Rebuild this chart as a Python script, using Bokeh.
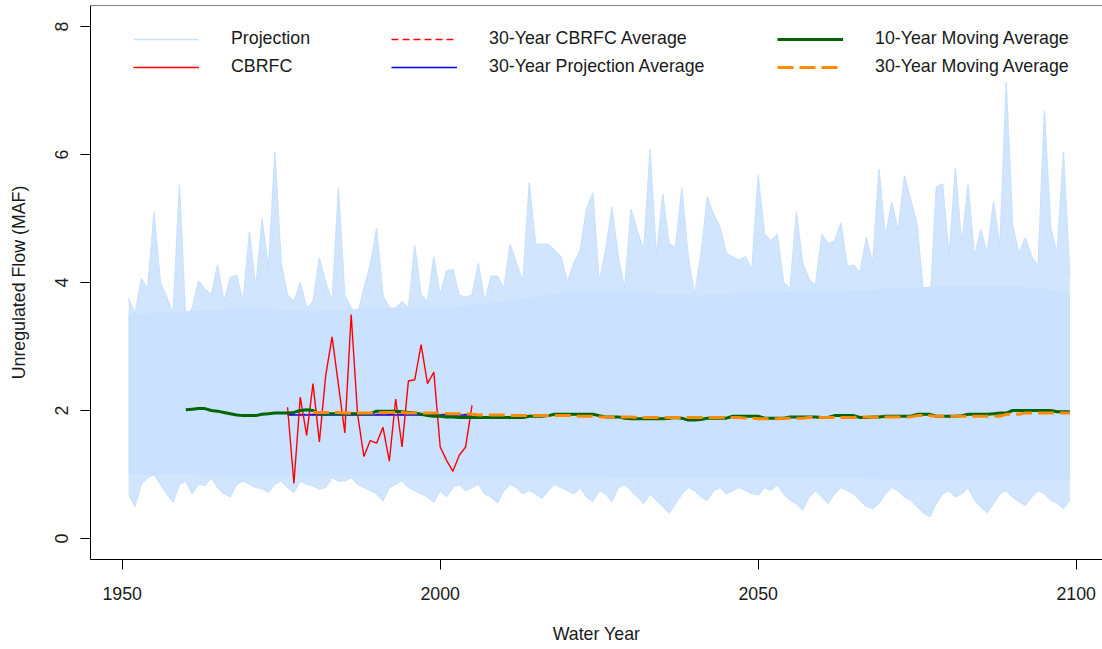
import math
from bokeh.plotting import figure
from bokeh.models import Range1d, FixedTicker, Legend, LegendItem, Span
from bokeh.embed import file_html
from bokeh.resources import INLINE

# ---------------- data ----------------
proj_years = list(range(1951, 2100))
# upper envelope of the projection ensemble (yearly maximum, MAF)
proj_max = [
    3.75, 3.50, 4.06, 3.90, 5.10, 4.00, 3.77, 3.50, 5.53,             # 1951-1959
    3.40, 3.60, 4.02, 3.90, 3.80, 4.28, 3.70, 4.08, 4.11, 3.70,       # 1960-1969
    4.79, 3.90, 5.00, 4.20, 6.04, 4.30, 3.80, 3.70, 4.00, 3.60,       # 1970-1979
    3.70, 4.38, 4.00, 3.70, 5.47, 3.80, 3.60, 3.50, 3.90, 4.27,       # 1980-1989
    4.85, 3.80, 3.60, 3.60, 3.70, 3.60, 4.58, 3.80, 3.70, 4.40,       # 1990-1999
    3.80, 4.18, 4.20, 3.80, 3.77, 3.80, 4.30, 3.70, 4.10, 4.10,       # 2000-2009
    3.90, 4.60, 4.30, 4.00, 5.56, 4.60, 4.60, 4.60, 4.50, 4.40,       # 2010-2019
    4.00, 4.30, 4.50, 5.15, 5.40, 4.00, 4.50, 5.18, 4.40, 3.90,       # 2020-2029
    5.14, 4.81, 4.50, 6.09, 4.40, 5.38, 4.60, 4.55, 5.47, 4.40,       # 2030-2039
    3.80, 4.45, 5.34, 5.06, 4.86, 4.45, 4.40, 4.35, 4.40, 4.20,       # 2040-2049
    5.68, 4.75, 4.65, 4.75, 4.00, 3.90, 5.10, 4.30, 4.05, 3.95,       # 2050-2059
    4.75, 4.60, 4.65, 4.93, 4.25, 4.27, 4.15, 4.70, 4.30, 5.77,       # 2060-2069
    4.70, 5.26, 4.80, 5.67, 5.28, 4.90, 3.80, 3.60, 5.49, 5.54,       # 2070-2079
    4.40, 5.78, 4.60, 5.54, 4.40, 4.83, 4.45, 5.26, 4.55, 7.13,       # 2080-2089
    4.90, 4.45, 4.70, 4.40, 4.25, 6.68, 4.85, 4.45, 6.04, 4.10,       # 2090-2099
]
# lower envelope of the projection ensemble (yearly minimum, MAF)
proj_min = [
    0.70, 0.50, 0.85, 0.95, 1.00, 0.85, 0.70, 0.57, 0.85,             # 1951-1959
    0.90, 0.70, 0.85, 0.83, 0.95, 0.80, 0.70, 0.65, 0.85, 0.90,       # 1960-1969
    0.85, 0.80, 0.78, 0.72, 0.85, 0.90, 0.80, 0.72, 0.90, 0.85,       # 1970-1979
    0.82, 0.77, 0.80, 0.95, 0.90, 0.90, 0.95, 0.85, 0.80, 0.75,       # 1980-1989
    0.70, 0.59, 0.80, 0.85, 0.90, 0.80, 0.75, 0.70, 0.65, 0.57,       # 1990-1999
    0.75, 0.65, 0.80, 0.85, 0.75, 0.80, 0.85, 0.70, 0.65, 0.56,       # 2000-2009
    0.75, 0.85, 0.80, 0.70, 0.75, 0.70, 0.63, 0.75, 0.85, 0.80,       # 2010-2019
    0.75, 0.70, 0.80, 0.65, 0.58, 0.75, 0.70, 0.58, 0.80, 0.85,       # 2020-2029
    0.75, 0.65, 0.55, 0.70, 0.60, 0.50, 0.40, 0.55, 0.70, 0.80,       # 2030-2039
    0.75, 0.65, 0.60, 0.75, 0.80, 0.70, 0.75, 0.80, 0.75, 0.70,       # 2040-2049
    0.68, 0.80, 0.75, 0.85, 0.70, 0.60, 0.55, 0.45, 0.65, 0.75,       # 2050-2059
    0.65, 0.55, 0.70, 0.80, 0.75, 0.70, 0.60, 0.50, 0.47, 0.55,       # 2060-2069
    0.70, 0.80, 0.75, 0.65, 0.60, 0.50, 0.40, 0.34, 0.55, 0.70,       # 2070-2079
    0.75, 0.65, 0.70, 0.80, 0.60, 0.50, 0.40, 0.55, 0.70, 0.75,       # 2080-2089
    0.65, 0.58, 0.52, 0.65, 0.75, 0.70, 0.60, 0.55, 0.47, 0.60,       # 2090-2099
]
# densely covered core of the ensemble
core_years = [1951, 1960, 1970, 1980, 1990, 2000, 2010, 2020, 2030, 2040,
              2050, 2060, 2070, 2080, 2090, 2099]
core_hi = [3.50, 3.55, 3.60, 3.55, 3.60, 3.60, 3.70, 3.85, 3.85, 3.80,
           3.85, 3.85, 3.90, 3.95, 3.95, 3.85]
core_lo = [1.00, 1.00, 0.98, 0.98, 0.98, 0.98, 0.97, 0.97, 0.95, 0.95,
           0.95, 0.95, 0.93, 0.93, 0.93, 0.93]

cbrfc_years = list(range(1976, 2006))
cbrfc = [2.05, 0.86, 2.21, 1.61, 2.42, 1.51, 2.55, 3.15, 2.40, 1.65,
         3.50, 1.95, 1.28, 1.53, 1.49, 1.74, 1.21, 2.18, 1.43, 2.46,
         2.48, 3.03, 2.42, 2.60, 1.43, 1.22, 1.05, 1.30, 1.43, 2.08]
proj_30yr_avg = 1.93

ma10_years = list(range(1960, 2100))
ma10 = [
    2.01, 2.02, 2.03, 2.03, 2.00, 1.99, 1.97, 1.95, 1.93, 1.92,
    1.92, 1.92, 1.94, 1.95, 1.96, 1.96, 1.96, 1.97, 2.00, 2.01,
    2.00, 1.95, 1.95, 1.95, 1.95, 1.95, 1.95, 1.95, 1.95, 1.95,
    1.99, 1.99, 1.99, 1.99, 1.98, 1.97, 1.96, 1.94, 1.92, 1.91,
    1.91, 1.90, 1.90, 1.89, 1.89, 1.89, 1.89, 1.89, 1.89, 1.89,
    1.89, 1.89, 1.89, 1.89, 1.91, 1.91, 1.91, 1.92, 1.94, 1.94,
    1.94, 1.94, 1.94, 1.94, 1.94, 1.92, 1.90, 1.90, 1.90, 1.88,
    1.87, 1.87, 1.87, 1.87, 1.87, 1.87, 1.88, 1.89, 1.88, 1.85,
    1.85, 1.86, 1.88, 1.88, 1.88, 1.88, 1.91, 1.91, 1.91, 1.91,
    1.91, 1.88, 1.88, 1.88, 1.88, 1.90, 1.90, 1.90, 1.90, 1.90,
    1.89, 1.89, 1.92, 1.92, 1.92, 1.92, 1.89, 1.89, 1.90, 1.90,
    1.91, 1.91, 1.91, 1.91, 1.91, 1.94, 1.94, 1.94, 1.91, 1.91,
    1.91, 1.91, 1.92, 1.94, 1.94, 1.94, 1.94, 1.95, 1.96, 1.96,
    2.00, 2.00, 2.00, 2.00, 2.00, 2.00, 2.00, 1.98, 1.98, 1.98,
]
ma30_years = list(range(1980, 2100))
ma30 = [
    1.97, 1.97, 1.97, 1.97, 1.97, 1.96, 1.96, 1.96, 1.96, 1.96,
    1.96, 1.97, 1.97, 1.97, 1.97, 1.96, 1.96, 1.96, 1.96, 1.96,
    1.96, 1.95, 1.95, 1.95, 1.95, 1.94, 1.93, 1.93, 1.93, 1.93,
    1.93, 1.92, 1.92, 1.92, 1.92, 1.92, 1.92, 1.92, 1.92, 1.92,
    1.92, 1.92, 1.91, 1.91, 1.91, 1.90, 1.90, 1.90, 1.90, 1.90,
    1.90, 1.89, 1.89, 1.89, 1.89, 1.89, 1.89, 1.89, 1.89, 1.89,
    1.89, 1.89, 1.89, 1.89, 1.89, 1.89, 1.89, 1.89, 1.88, 1.88,
    1.87, 1.87, 1.87, 1.87, 1.88, 1.88, 1.88, 1.88, 1.89, 1.89,
    1.89, 1.89, 1.89, 1.89, 1.89, 1.89, 1.90, 1.90, 1.90, 1.90,
    1.90, 1.90, 1.90, 1.90, 1.90, 1.92, 1.92, 1.92, 1.91, 1.91,
    1.91, 1.91, 1.91, 1.91, 1.91, 1.91, 1.91, 1.91, 1.91, 1.94,
    1.94, 1.94, 1.96, 1.96, 1.96, 1.96, 1.96, 1.96, 1.96, 1.96,
]

x_ticks = [1950, 2000, 2050, 2100]
y_ticks = [0, 2, 4, 6, 8]

# ---------------- styling ----------------
FONT = "Liberation Sans"
FS = "17.8px"
TXT = "#1a1a1a"
PROJ = "#CAE1FF"
RED = "#FF0000"
BLUE = "#0000FF"
GREEN = "#006400"
ORANGE = "#FF8C00"

W, H = 1102, 649
LEFT, TOP, BOTTOM = 90, 5, 90
px_per_year = 6.36
px_per_unit = 64.0
frame_w = W - LEFT
frame_h = H - BOTTOM - TOP
x0 = 1950 - 31.7 / px_per_year
y0 = -21.0 / px_per_unit
y1 = y0 + frame_h / px_per_unit

p = figure(width=W, height=H, output_backend="svg", toolbar_location=None,
           x_range=Range1d(x0, x0 + frame_w / px_per_year),
           y_range=Range1d(y0, y1),
           min_border_left=LEFT, min_border_bottom=BOTTOM,
           min_border_top=TOP, min_border_right=0)
p.outline_line_color = None
p.grid.visible = False
p.background_fill_color = "white"
p.border_fill_color = "white"

# projection ensemble
p.varea(x=proj_years, y1=proj_min, y2=proj_max, fill_color=PROJ, fill_alpha=0.85)
p.varea(x=core_years, y1=core_lo, y2=core_hi, fill_color=PROJ, fill_alpha=1.0)
r_proj = p.line(proj_years, proj_max, line_color=PROJ, line_width=1.3)
p.line(proj_years, proj_min, line_color=PROJ, line_width=1.3)

# observed CBRFC and the 30-year averages
cb_avg = sum(cbrfc) / len(cbrfc)
r_cbavg = p.line(x=[cbrfc_years[0], cbrfc_years[-1]], y=[cb_avg, cb_avg],
                 line_color=RED, line_alpha=1.0, line_width=1.3, line_dash="7 4")
r_pavg = p.line(x=[cbrfc_years[0], cbrfc_years[-1]], y=[proj_30yr_avg, proj_30yr_avg],
                line_color=BLUE, line_alpha=1.0, line_width=1.3)
r_cb = p.line(cbrfc_years, cbrfc, line_color=RED, line_width=1.4)

# moving averages
r_ma10 = p.line(ma10_years, ma10, line_color=GREEN, line_width=3)
r_ma30 = p.line(ma30_years, ma30, line_color=ORANGE, line_width=3, line_dash="16 6")

# top border of the frame (no right border is visible in the reference)
p.add_layout(Span(location=y1, dimension="width", line_color="black", line_width=1))

# axes
for ax in (p.xaxis[0], p.yaxis[0]):
    ax.major_tick_out = 10
    ax.major_tick_in = 0
    ax.minor_tick_out = 0
    ax.minor_tick_in = 0
    ax.axis_line_color = "black"
    ax.major_tick_line_color = "black"
    ax.major_label_text_font = FONT
    ax.major_label_text_font_size = FS
    ax.major_label_text_color = TXT
    ax.axis_label_text_font = FONT
    ax.axis_label_text_font_size = FS
    ax.axis_label_text_font_style = "normal"
    ax.axis_label_text_color = TXT

p.xaxis.ticker = FixedTicker(ticks=x_ticks)
p.yaxis.ticker = FixedTicker(ticks=y_ticks)
p.xaxis.axis_label = "Water Year"
p.yaxis.axis_label = "Unregulated Flow (MAF)"
p.xaxis.major_label_standoff = 17
p.xaxis.axis_label_standoff = 21
p.yaxis.major_label_standoff = 13
p.yaxis.major_label_orientation = "vertical"
p.yaxis.axis_label_standoff = 23

# legends (three columns, two rows, no box)
def make_legend(items, x):
    leg = Legend(items=items, location=(x, 482), orientation="vertical",
                 background_fill_alpha=0, border_line_color=None,
                 padding=0, margin=0, spacing=7,
                 glyph_width=66, glyph_height=20, label_height=20,
                 label_standoff=32, label_text_font=FONT,
                 label_text_font_size=FS, label_text_color=TXT)
    p.add_layout(leg, "center")

make_legend([LegendItem(label="Projection", renderers=[r_proj]),
             LegendItem(label="CBRFC", renderers=[r_cb])], 43)
make_legend([LegendItem(label="30-Year CBRFC Average", renderers=[r_cbavg]),
             LegendItem(label="30-Year Projection Average", renderers=[r_pavg])], 301)
make_legend([LegendItem(label="10-Year Moving Average", renderers=[r_ma10]),
             LegendItem(label="30-Year Moving Average", renderers=[r_ma30])], 687)

open("out.html", "w").write(file_html(p, INLINE))
